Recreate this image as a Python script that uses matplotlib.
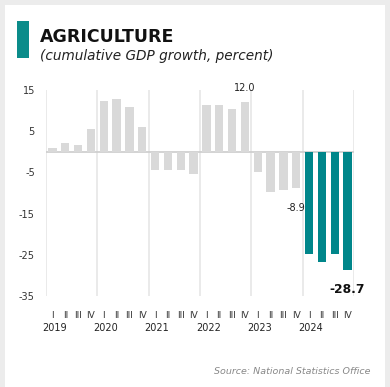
import numpy as np
import matplotlib.pyplot as plt
from matplotlib.patches import Rectangle
from matplotlib.transforms import blended_transform_factory

# Cumulative agriculture GDP growth by quarter, 2019-2024
years = ['2019', '2020', '2021', '2022', '2023', '2024']
quarters = ['I', 'II', 'III', 'IV']
growth = [1.0, 2.1, 1.6, 5.5,
          12.3, 12.7, 10.9, 5.9,
          -4.5, -4.5, -4.5, -5.5,
          11.3, 11.3, 10.3, 12.0,
          -4.9, -9.7, -9.3, -8.9,
          -24.8, -26.7, -24.8, -28.7]
highlight_year = '2024'
yticks = [15, 5, -5, -15, -25, -35]

W, H = 390, 387
fig = plt.figure(figsize=(W / 100, H / 100), dpi=100)
fig.patch.set_facecolor('#ececec')

# white card
fig.patches.append(Rectangle((5 / W, 0), 380 / W, 1 - 5 / H, transform=fig.transFigure,
                             facecolor='white', edgecolor='none', zorder=-2))
# teal marker next to the title
fig.patches.append(Rectangle((17 / W, 1 - 58 / H), 12 / W, 37 / H, transform=fig.transFigure,
                             facecolor='#0b8c8a', edgecolor='none', zorder=-1))

fig.text(40 / W, 1 - 37 / H, 'AGRICULTURE', fontsize=12.5, fontweight='bold',
         color='#111111', va='center', ha='left')
fig.text(40 / W, 1 - 56 / H, '(cumulative GDP growth, percent)', fontsize=9.8,
         style='italic', color='#222222', va='center', ha='left')
fig.text(371 / W, 1 - 372 / H, 'Source: National Statistics Office', fontsize=6.8,
         style='italic', color='#888888', va='center', ha='right')

ax = fig.add_axes([46 / W, 1 - 296 / H, 308 / W, 206 / H])
ax.set_facecolor('none')
ax.set_zorder(2)

x = np.arange(len(growth))
colors = ['#00868a' if years[i // 4] == highlight_year else '#d9d9d9' for i in x]
ax.bar(x, growth, width=0.64, color=colors, zorder=3)

# year separators and baseline
for k in range(len(years) + 1):
    ax.axvline(4 * k - 0.5, color='#e6e6e6', lw=1.2, zorder=1)
ax.axhline(0, color='#cccccc', lw=1.2, zorder=2)

ax.set_xlim(-0.5, len(growth) - 0.5)
ax.set_ylim(-35, 15)
ax.set_yticks(yticks)
ax.set_yticklabels([str(t) for t in yticks], fontsize=7, color='#333333')
ax.tick_params(axis='y', length=0, pad=8)
ax.set_xticks([])
for s in ax.spines.values():
    s.set_visible(False)

# quarter and year labels under the bars
trans = blended_transform_factory(ax.transData, ax.transAxes)
for i in x:
    ax.text(i, -20 / 206, quarters[i % 4], transform=trans, ha='center', va='center',
            fontsize=6.5, color='#333333')
for k, yr in enumerate(years):
    ax.text(4 * k + 0.15, -32 / 206, yr, transform=trans, ha='center', va='center',
            fontsize=7, color='#222222')

# value callouts
ax.text(15, 15.5, f'{growth[15]:.1f}', ha='center', va='center', fontsize=7, color='#222222')
ax.text(19, growth[19] - 4.7, f'{growth[19]:.1f}', ha='center', va='center', fontsize=7,
        color='#222222')
ax.text(23, growth[23] - 4.8, f'{growth[23]:.1f}', ha='center', va='center', fontsize=8.8,
        fontweight='bold', color='#111111')

fig.savefig('out.png', dpi=100)
